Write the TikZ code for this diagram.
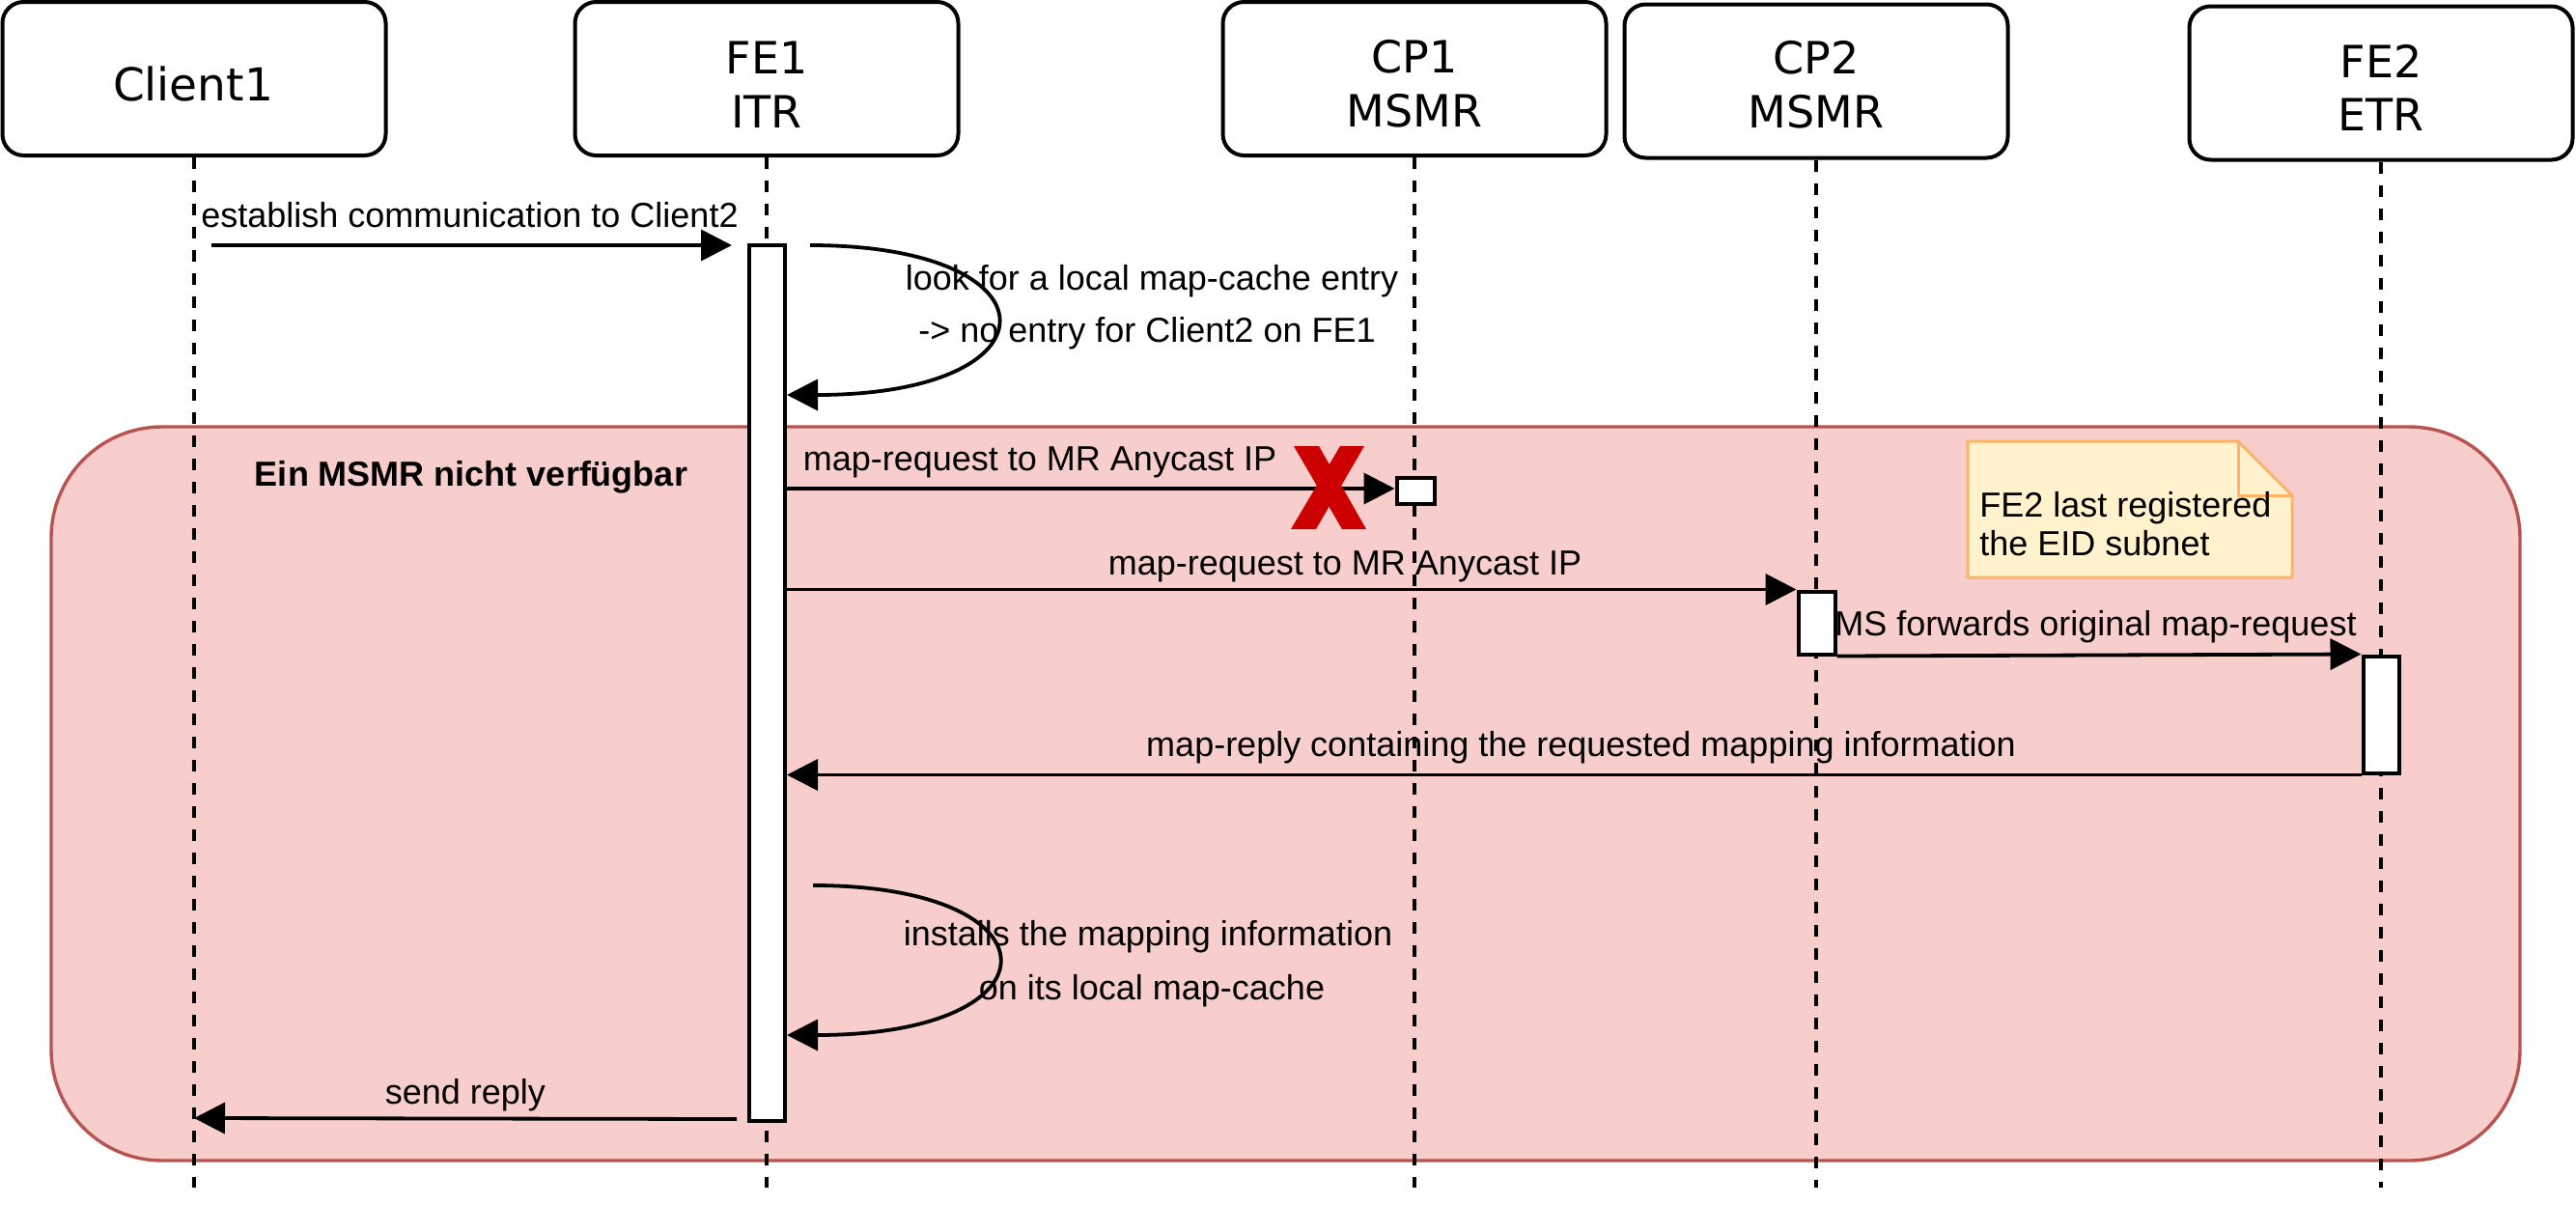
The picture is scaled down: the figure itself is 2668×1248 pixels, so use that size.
\documentclass[tikz,border=0pt]{standalone}
\usepackage{fontspec}
\setmainfont{Liberation Sans}
\newfontfamily\hdrfont{DejaVu Sans}
\usetikzlibrary{arrows.meta}
\definecolor{regfill}{HTML}{F8CECC}
\definecolor{regdraw}{HTML}{B85450}
\definecolor{notefill}{HTML}{FFF2CC}
\definecolor{notedraw}{HTML}{FFB366}
\definecolor{xred}{HTML}{CC0000}
\begin{document}
\begin{tikzpicture}[x=0.5pt,y=-0.5pt,
  lw/.style={line width=1.9pt},
  hdrbox/.style={draw, line width=2pt, rounded corners=11pt, fill=white, inner sep=0pt, minimum width=198.5pt, minimum height=79.5pt},
  hdrtxt/.style={font=\hdrfont\fontsize{23pt}{28pt}\selectfont, inner sep=0pt, anchor=base},
  life/.style={line width=2pt, dash pattern=on 6pt off 6pt},
  act/.style={draw, line width=2pt, fill=white, inner sep=0pt},
  msg/.style={lw, -{Triangle[length=16pt,width=16pt]}},
  lbl/.style={font=\fontsize{18pt}{22pt}\selectfont, inner sep=0pt, anchor=base},
  region/.style={draw=regdraw, fill=regfill, line width=1.7pt, rounded corners=57.5pt, inner sep=0pt},
]
\useasboundingbox (0,0) rectangle (2668,1248);

% group region
\node[region, minimum width=1278.5pt, minimum height=380pt] (grp) at (1331.5,822) {};
\node[lbl, font=\bfseries\fontsize{18pt}{22pt}\selectfont] (grplbl) at (488,503) {Ein MSMR nicht verfügbar};

% header boxes
\node[hdrbox] (c1) at (201,81.5) {};
\node[hdrbox] (fe1) at (794,81.5) {};
\node[hdrbox] (cp1) at (1465,81.5) {};
\node[hdrbox] (cp2) at (1881,84) {};
\node[hdrbox] (fe2) at (2466,86) {};

\node[hdrtxt, font=\hdrfont\fontsize{23.5pt}{28pt}\selectfont] (c1t) at (200,104) {Client1};
\node[hdrtxt] (fe1a) at (794,76) {FE1};
\node[hdrtxt] (fe1b) at (794,132) {ITR};
\node[hdrtxt] (cp1a) at (1465,75) {CP1};
\node[hdrtxt] (cp1b) at (1465,131) {MSMR};
\node[hdrtxt] (cp2a) at (1881,76) {CP2};
\node[hdrtxt] (cp2b) at (1881,132) {MSMR};
\node[hdrtxt] (fe2a) at (2466,80) {FE2};
\node[hdrtxt] (fe2b) at (2466,135) {ETR};

% lifelines
\coordinate (c1end) at (201,1230);
\coordinate (fe1end) at (794,1230);
\coordinate (cp1end) at (1465,1230);
\coordinate (cp2end) at (1881,1230);
\coordinate (fe2end) at (2466,1230);
\draw[life] (c1.south) -- (c1end);
\draw[life] (fe1.south) -- (fe1end);
\draw[life] (cp1.south) -- (cp1end);
\draw[life] (cp2.south) -- (cp2end);
\draw[life] (fe2.south) -- (fe2end);

% activations
\node[act, minimum width=18.75pt, minimum height=453.5pt] (a1) at (794.25,707.5) {};
\node[act, minimum width=19.5pt, minimum height=13.5pt] (a2) at (1466,508) {};
\node[act, minimum width=19pt, minimum height=32.5pt] (a3) at (1881.5,645) {};
\node[act, minimum width=18.5pt, minimum height=60.5pt] (a4) at (2466,740) {};

% establish
\coordinate (e1s) at (219,254);
\coordinate (e1t) at (758,254);
\draw[msg] (e1s) -- (e1t);
\node[lbl] (e1l) at (486.5,235) {establish communication to Client2};

% loop 1
\coordinate (l1s) at (839,254);
\coordinate (l1e) at (815,409);
\draw[msg] (l1s) .. controls (1100,254) and (1100,409) .. (l1e);
\node[lbl] (l1a) at (1193,300) {look for a local map-cache entry};
\node[lbl] (l1b) at (1188,354) {-> no entry for Client2 on FE1};

% map-request 1
\draw[msg] (a1.east |- 0,506) -- (a2.west |- 0,506);
\node[lbl] (m1l) at (1077,487) {map-request to MR Anycast IP};
\fill[xred] (1340,462) -- (1366,462) -- (1415,548) -- (1390,548) -- cycle;
\fill[xred] (1388,462) -- (1413,462) -- (1363,548) -- (1337,548) -- cycle;

% map-request 2
\draw[msg] (a1.east |- a3.north west) -- (a3.north west);
\node[lbl] (m2l) at (1393,595) {map-request to MR Anycast IP};

% MS forwards
\draw[msg] (a3.south east) -- (a4.north west);
\node[lbl] (m3l) at (2170.5,658) {MS forwards original map-request};

% map-reply
\draw[msg] (a4.south west) -- (a1.east |- a4.south west);
\node[lbl] (m4l) at (1637.5,783) {map-reply containing the requested mapping information};

% loop 2
\coordinate (l2s) at (842,917);
\coordinate (l2e) at (815,1072);
\draw[msg] (l2s) .. controls (1101,917) and (1101,1072) .. (l2e);
\node[lbl] (l2a) at (1189,979) {installs the mapping information};
\node[lbl] (l2b) at (1193,1035) {on its local map-cache};

% send reply
\coordinate (srs) at (763,1159);
\coordinate (srt) at (201,1158);
\draw[msg] (srs) -- (srt);
\node[lbl] (srl) at (482,1143) {send reply};

% note
\draw[draw=notedraw, fill=notefill, line width=1.5pt, line join=miter]
  (2038,457) -- (2318,457) -- (2374,513) -- (2374,598) -- (2038,598) -- cycle;
\draw[draw=notedraw, line width=1.5pt] (2318,457) -- (2318,513) -- (2374,513);
\node[lbl, anchor=base west] (n1) at (2050,535) {FE2 last registered};
\node[lbl, anchor=base west] (n2) at (2050,575) {the EID subnet};
\end{tikzpicture}
\end{document}
